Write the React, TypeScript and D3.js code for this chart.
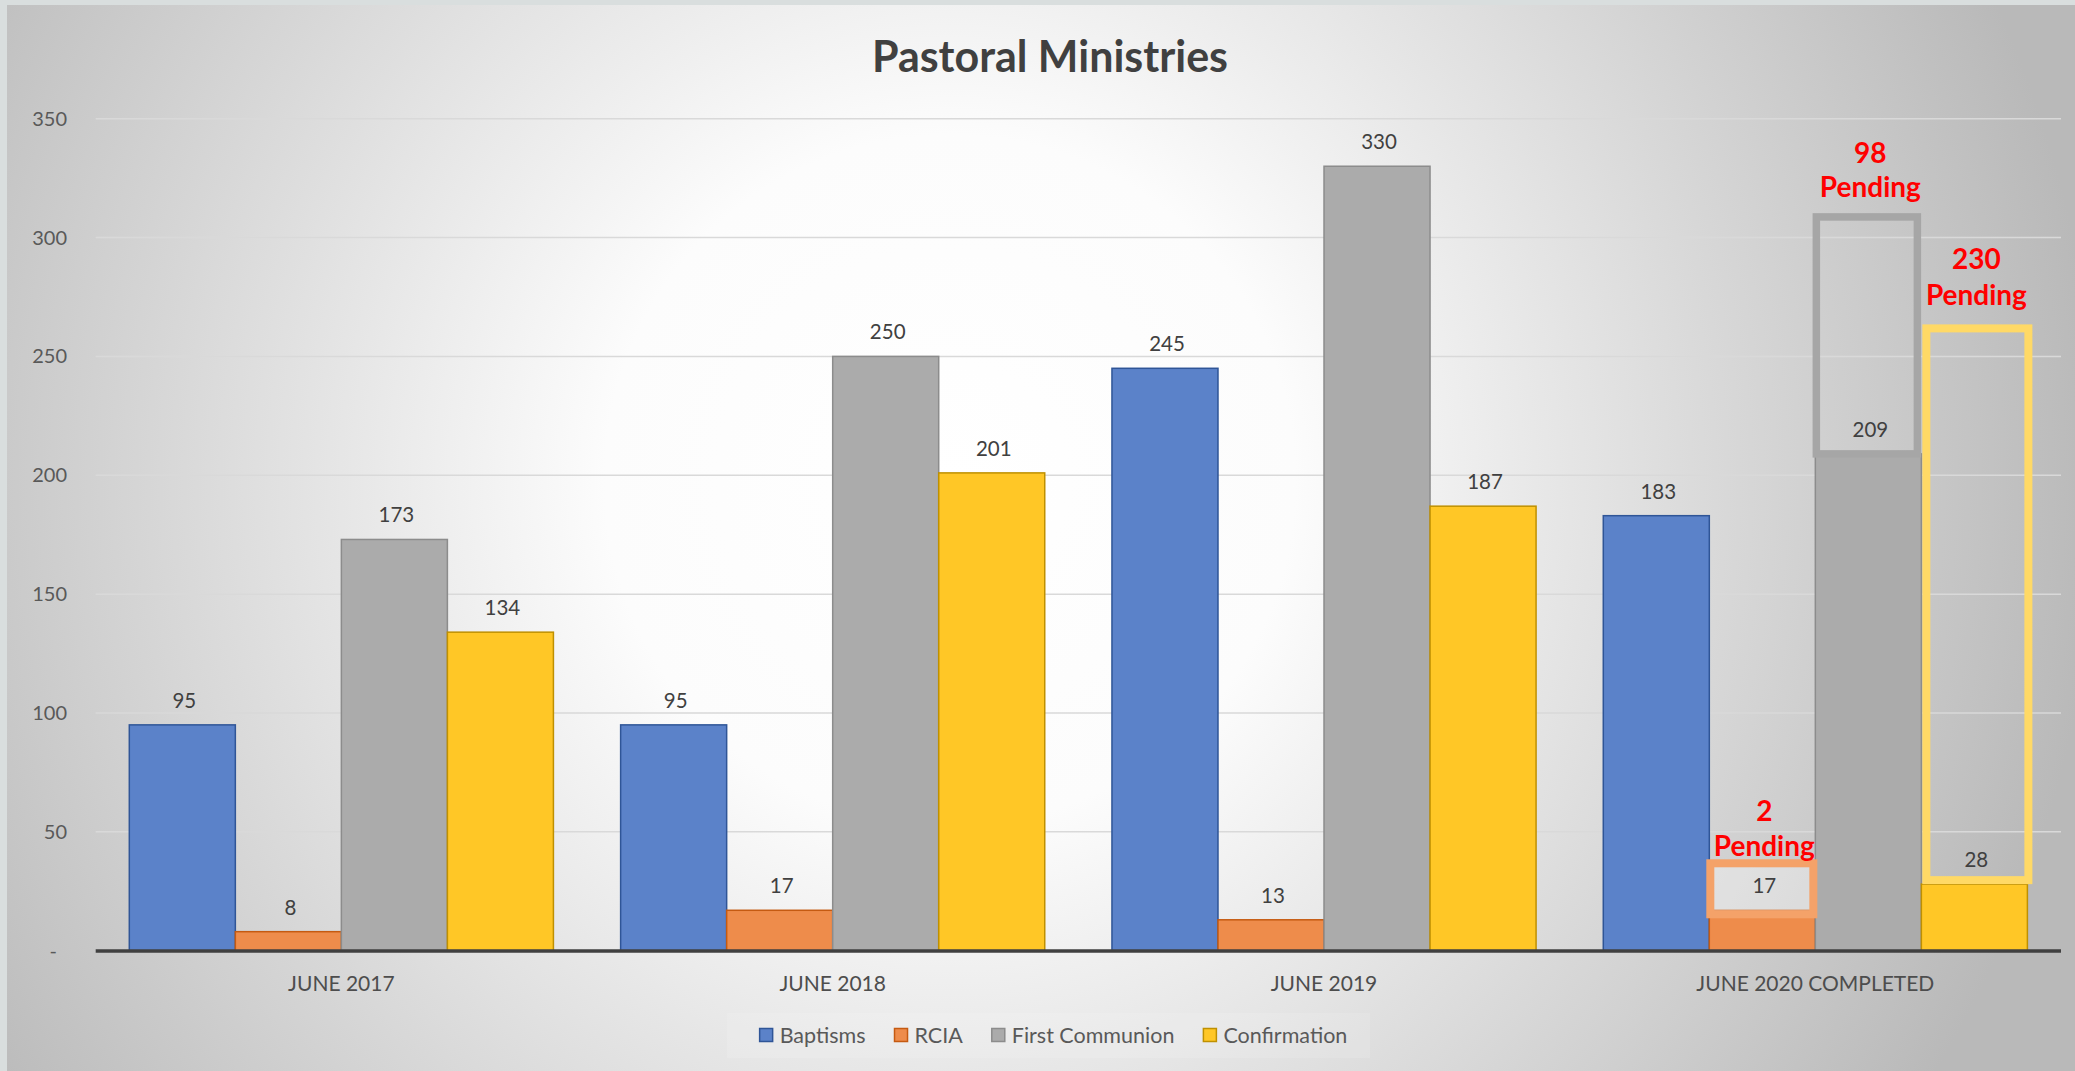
import React, { useEffect, useRef } from "react";
import * as d3 from "d3";

const categories = ["JUNE 2017", "JUNE 2018", "JUNE 2019", "JUNE 2020 COMPLETED"];
const seriesNames = ["Baptisms", "RCIA", "First Communion", "Confirmation"];
const baptisms = [95, 95, 245, 183];
const rcia = [8, 17, 13, 17];
const firstCommunion = [173, 250, 330, 209];
const confirmation = [134, 201, 187, 28];
const yTicks = [0, 50, 100, 150, 200, 250, 300, 350];
const yTickLabels = ["-", "50", "100", "150", "200", "250", "300", "350"];

// Pending annotations on the last category
const pendingCategory = "JUNE 2020 COMPLETED";
const pendingSeries = ["RCIA", "First Communion", "Confirmation"];
const pendingValues = [2, 98, 230];

const fills = ["#5B82C9", "#EE8C4B", "#ABABAB", "#FFC726"];
const strokes = ["#2F5597", "#C55A11", "#8C8C8C", "#BF9000"];
const font = "Lato, 'Open Sans', sans-serif";

export default function App() {
  const ref = useRef<SVGSVGElement | null>(null);

  useEffect(() => {
    const svg = d3.select(ref.current);
    svg.selectAll("*").remove();
    const W = 2075, H = 1071;
    const values = [baptisms, rcia, firstCommunion, confirmation];

    const defs = svg.append("defs");
    const grad = defs.append("radialGradient").attr("id", "bg").attr("gradientUnits", "userSpaceOnUse")
      .attr("cx", 950).attr("cy", 480).attr("r", 1150);
    grad.append("stop").attr("offset", "0").attr("stop-color", "#ffffff");
    grad.append("stop").attr("offset", "0.3").attr("stop-color", "#fcfcfc");
    grad.append("stop").attr("offset", "1").attr("stop-color", "#b9b9b9");

    svg.append("rect").attr("width", W).attr("height", H).attr("fill", "#d9dede");
    svg.append("rect").attr("x", 7).attr("y", 5).attr("width", W - 7).attr("height", H - 5).attr("fill", "url(#bg)");

    const x0 = d3.scaleBand<string>().domain(categories).range([95.7, 2061]).paddingInner(0).paddingOuter(0);
    const x1 = d3.scaleBand<string>().domain(seriesNames).range([0, x0.bandwidth()]).paddingInner(0).paddingOuter(0.317);
    const y = d3.scaleLinear().domain([0, 350]).range([950.7, 118.7]);

    // title
    svg.append("text").attr("x", 1050).attr("y", 72).attr("text-anchor", "middle")
      .attr("font-family", font).attr("font-weight", 700).attr("font-size", 43).attr("fill", "#404040")
      .text("Pastoral Ministries");

    // gridlines
    svg.append("g").selectAll("line").data(yTicks.filter(t => t > 0)).join("line")
      .attr("x1", 95.7).attr("x2", 2061).attr("y1", d => y(d)).attr("y2", d => y(d))
      .attr("stroke", "#D9D9D9").attr("stroke-width", 1.5);

    // y tick labels
    svg.append("g").selectAll("text").data(yTicks).join("text")
      .attr("x", d => (d === 0 ? 57 : 67)).attr("y", d => y(d)).attr("dy", "0.35em")
      .attr("text-anchor", "end").attr("font-family", font).attr("font-size", 20).attr("fill", "#595959")
      .text((d, i) => yTickLabels[i]);

    // bars
    const groups = svg.append("g").selectAll("g").data(categories).join("g")
      .attr("transform", c => `translate(${x0(c)},0)`);
    seriesNames.forEach((s, si) => {
      groups.append("rect")
        .attr("x", x1(s)!).attr("width", x1.bandwidth())
        .attr("y", (c, ci) => y(values[si][ci]))
        .attr("height", (c, ci) => y(0) - y(values[si][ci]))
        .attr("fill", fills[si]).attr("stroke", strokes[si]).attr("stroke-width", 1.5);
    });

    // axis line
    svg.append("line").attr("x1", 95.7).attr("x2", 2061).attr("y1", 951).attr("y2", 951)
      .attr("stroke", "#404040").attr("stroke-width", 3.4);

    // pending annotation boxes
    const ci = categories.indexOf(pendingCategory);
    const boxStyle: Record<string, any> = {
      "RCIA": { color: "#F4A269", fill: "rgba(255,255,255,0.35)", sw: 8, t1: -89, t2: -54 },
      "First Communion": { color: "#A6A6A6", fill: "none", sw: 7.5, t1: -58, t2: -23.5 },
      "Confirmation": { color: "#FFD966", fill: "none", sw: 8, t1: -68.4, t2: -32 },
    };
    const ann = svg.append("g");
    pendingSeries.forEach((s, pi) => {
      const si = seriesNames.indexOf(s);
      const v = values[si][ci];
      const total = v + pendingValues[pi];
      const bx = x0(pendingCategory)! + x1(s)!;
      const bw = x1.bandwidth();
      const st = boxStyle[s];
      let top: number, bottom: number, left: number, width: number;
      if (s === "RCIA") {
        top = y(v) - 47; bottom = y(v) + 4; left = bx + 1; width = bw - 3;
      } else if (s === "First Communion") {
        top = y(total) - 4; bottom = y(v); left = bx + 1; width = bw - 5;
      } else {
        top = y(total) - 9; bottom = y(v) - 4; left = bx + 5; width = bw - 4;
      }
      ann.append("rect").attr("x", left).attr("y", top).attr("width", width).attr("height", bottom - top)
        .attr("fill", st.fill).attr("stroke", st.color).attr("stroke-width", st.sw);
      const ty = s === "RCIA" ? y(v) : y(total);
      const cx = bx + bw / 2 + 2;
      ann.append("text").attr("x", cx).attr("y", ty + st.t1).attr("text-anchor", "middle")
        .attr("font-family", font).attr("font-weight", 700).attr("font-size", 28).attr("fill", "#FF0000")
        .text(String(pendingValues[pi]));
      ann.append("text").attr("x", cx).attr("y", ty + st.t2).attr("text-anchor", "middle")
        .attr("font-family", font).attr("font-weight", 700).attr("font-size", 28).attr("fill", "#FF0000")
        .text("Pending");
    });

    // data labels
    seriesNames.forEach((s, si) => {
      svg.append("g").selectAll("text").data(categories).join("text")
        .attr("x", c => x0(c)! + x1(s)! + x1.bandwidth() / 2 + 2)
        .attr("y", (c, i) => y(values[si][i]) - 17)
        .attr("text-anchor", "middle").attr("font-family", font).attr("font-size", 20.5).attr("fill", "#404040")
        .text((c, i) => String(values[si][i]));
    });

    // category labels
    svg.append("g").selectAll("text").data(categories).join("text")
      .attr("x", c => x0(c)! + x0.bandwidth() / 2).attr("y", 990.7)
      .attr("text-anchor", "middle").attr("font-family", font).attr("font-size", 21).attr("fill", "#4d4d4d")
      .text(c => c);

    // legend
    svg.append("rect").attr("x", 727).attr("y", 1013).attr("width", 643).attr("height", 45)
      .attr("fill", "#ffffff").attr("opacity", 0.12);
    const lg = svg.append("g");
    let cx = 0;
    const items: { g: any; w: number }[] = [];
    seriesNames.forEach((s, si) => {
      const g = lg.append("g");
      g.append("rect").attr("x", 0).attr("y", 1028.5).attr("width", 13).attr("height", 13)
        .attr("fill", fills[si]).attr("stroke", strokes[si]).attr("stroke-width", 1.5);
      const t = g.append("text").attr("x", 20).attr("y", 1043).attr("font-family", font)
        .attr("font-size", 21.5).attr("fill", "#595959").text(s);
      const tw = (t.node() as SVGTextElement).getComputedTextLength();
      items.push({ g, w: 20 + tw });
    });
    const gap = 29;
    const total = items.reduce((a, b) => a + b.w, 0) + gap * (items.length - 1);
    cx = 1053.5 - total / 2;
    items.forEach(it => {
      it.g.attr("transform", `translate(${cx},0)`);
      cx += it.w + gap;
    });
  }, []);

  return (
    <svg ref={ref} width={2075} height={1071}
      style={{ position: "absolute", left: 0, top: 0, display: "block" }} />
  );
}
